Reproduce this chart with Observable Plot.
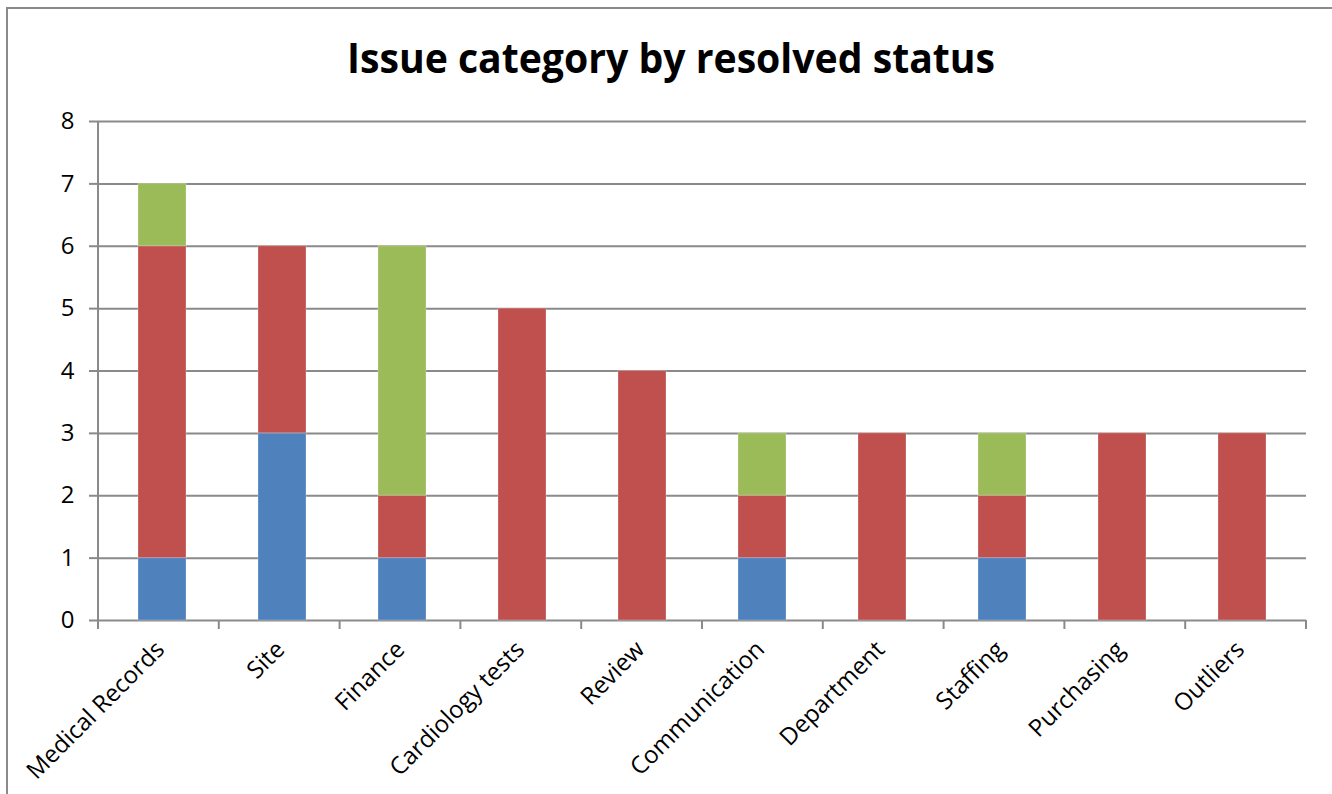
<!DOCTYPE html>
<html>
<head>
<meta charset="utf-8">
<script src="https://cdn.jsdelivr.net/npm/d3@7"></script>
<script src="https://cdn.jsdelivr.net/npm/@observablehq/plot@0.6"></script>
<style>
  html, body { margin: 0; padding: 0; background: #fff; }
  #page { position: relative; width: 1332px; height: 794px; overflow: hidden; background: #fff; }
  #box { position: absolute; left: 6px; top: 7px; width: 1340px; height: 820px; border-left: 2px solid #8a8a8a; border-top: 2px solid #8a8a8a; }
  #title { position: absolute; left: 0; top: 0; }
  #chart { position: absolute; left: 0; top: 100px; }
</style>
</head>
<body>
<div id="page">
  <div id="box"></div>
  <svg id="title" width="1332" height="100">
    <text x="671" y="73" text-anchor="middle" font-family="'Open Sans', sans-serif" font-weight="bold" font-size="42" textLength="648" lengthAdjust="spacingAndGlyphs">Issue category by resolved status</text>
  </svg>
  <div id="chart"></div>
</div>
<script>
const categories = ["Medical Records", "Site", "Finance", "Cardiology tests", "Review", "Communication", "Department", "Staffing", "Purchasing", "Outliers"];
const statuses = ["Resolved", "Unresolved", "Partially resolved"];
const statusColors = ["#4F81BD", "#C0504D", "#9BBB59"];
const resolved          = [1, 3, 1, 0, 0, 1, 0, 1, 0, 0];
const unresolved        = [5, 3, 1, 5, 4, 1, 3, 1, 3, 3];
const partiallyResolved = [1, 0, 4, 0, 0, 1, 0, 1, 0, 0];
const yTicks = [0, 1, 2, 3, 4, 5, 6, 7, 8];

const series = [resolved, unresolved, partiallyResolved];
const data = [];
statuses.forEach((s, si) => {
  categories.forEach((c, ci) => {
    data.push({category: c, status: s, value: series[si][ci]});
  });
});

const gridColor = "#8a8a8a";

function frameLines(index, scales, values, dimensions) {
  const {marginLeft, marginRight, width} = dimensions;
  const left = marginLeft, right = width - marginRight;
  const y0 = scales.y(0), yTop = scales.y(yTicks[yTicks.length - 1]);
  const n = categories.length;
  const step = (right - left) / n;
  const g = d3.create("svg:g").attr("stroke", gridColor).attr("stroke-width", 2).attr("fill", "none");
  g.append("line").attr("x1", left).attr("x2", left).attr("y1", yTop).attr("y2", y0);
  for (let i = 0; i <= n; i++) {
    const x = left + i * step;
    g.append("line").attr("x1", x).attr("x2", x).attr("y1", y0).attr("y2", y0 + 9);
  }
  return g.node();
}

const chart = Plot.plot({
  width: 1332,
  height: 694,
  marginTop: 21,
  marginLeft: 98,
  marginRight: 26,
  marginBottom: 174,
  style: {fontFamily: "'Open Sans', sans-serif", fontSize: "23px", color: "#000", background: "transparent", overflow: "visible"},
  x: {domain: categories, paddingInner: 0.6, paddingOuter: 0.3, label: null},
  y: {domain: [0, 8], ticks: yTicks, label: null},
  color: {domain: statuses, range: statusColors},
  marks: [
    Plot.gridY(yTicks, {stroke: gridColor, strokeOpacity: 1, strokeWidth: 2}),
    Plot.barY(data, {x: "category", y: "value", fill: "status", order: statuses, stroke: "#ffffff", strokeOpacity: 0.25, strokeWidth: 1}),
    Plot.axisY(yTicks, {tickSize: 9, tickPadding: 15, fontSize: 24, tickFormat: "d", stroke: gridColor, strokeWidth: 2, label: null}),
    Plot.axisX({tickSize: 0, tickRotate: -45, tickPadding: 25, dx: -2, fontSize: 24, label: null}),
    frameLines
  ]
});
document.getElementById("chart").appendChild(chart);
</script>
</body>
</html>
